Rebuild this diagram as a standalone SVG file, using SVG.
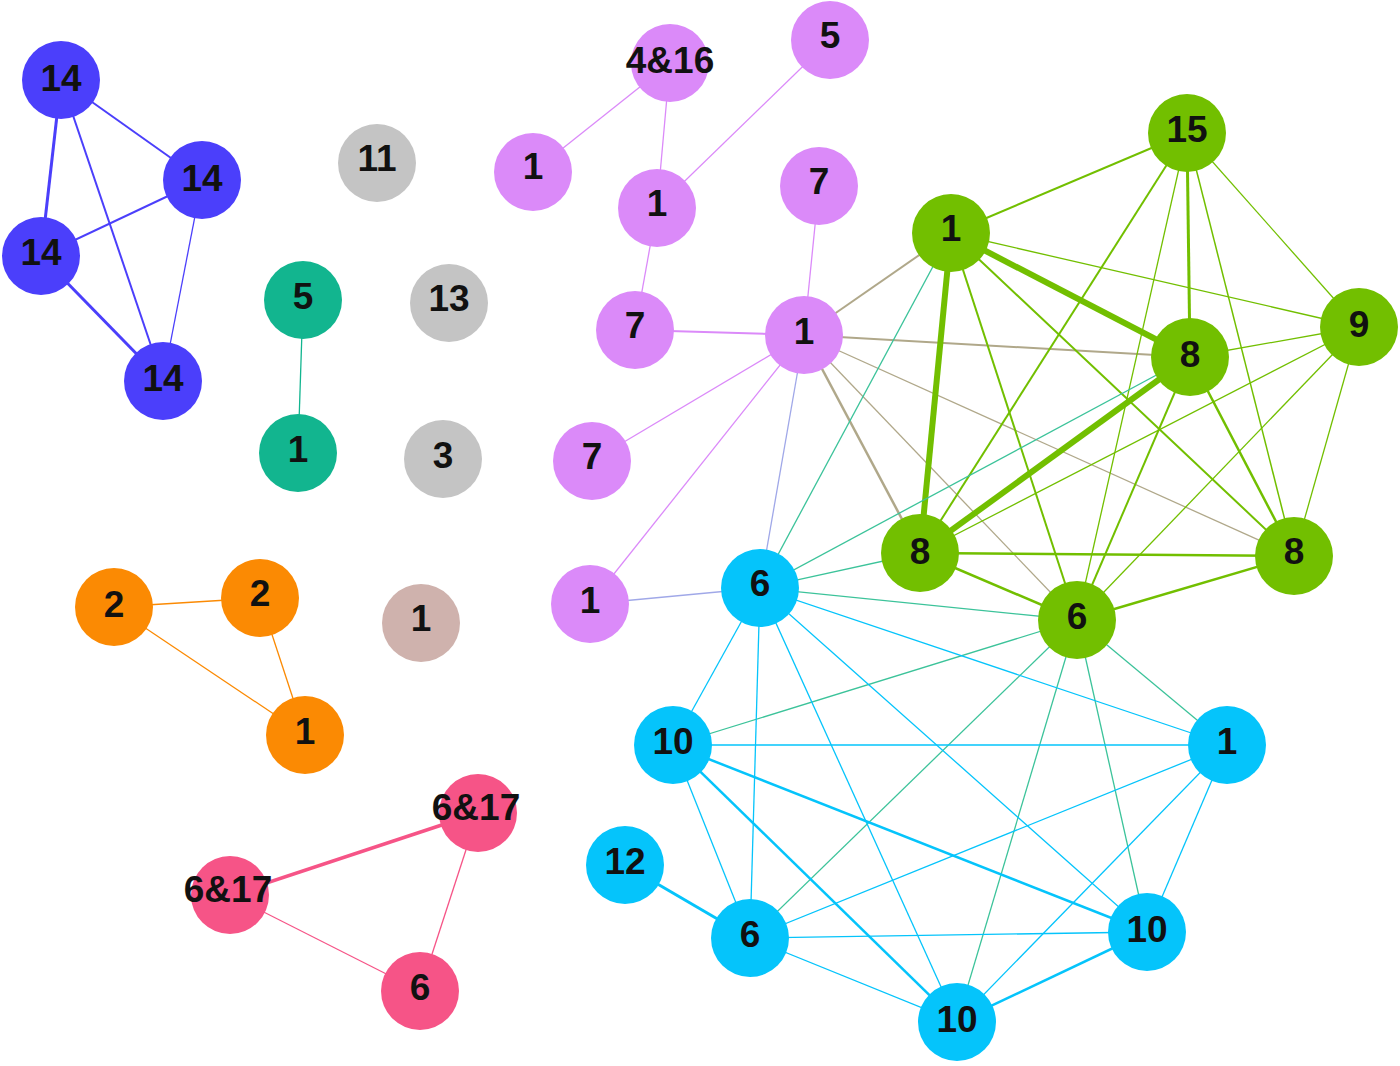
<svg xmlns="http://www.w3.org/2000/svg" width="1400" height="1066" viewBox="0 0 1400 1066">
<style>
text{font-family:"Liberation Sans",Arial,sans-serif;font-weight:bold;font-size:37px;text-anchor:middle;dominant-baseline:central;fill:#111}
.bl{fill:#4b3ffb}.gy{fill:#c4c4c4}.te{fill:#12b58f}.or{fill:#fb8a03}.tn{fill:#cfb2ad}.pk{fill:#f65487}.pu{fill:#db8af9}.gr{fill:#72bf00}.cy{fill:#05c4fb}
</style>
<rect width="1400" height="1066" fill="#fff"/>
<g id="edges" stroke-width="1.3">
<g stroke="#4b3ffb"><line x1="61" y1="80" x2="41" y2="256" stroke-width="3"/><line x1="41" y1="256" x2="163" y2="381" stroke-width="3"/><line x1="61" y1="80" x2="202" y2="180" stroke-width="2"/><line x1="61" y1="80" x2="163" y2="381" stroke-width="2"/><line x1="202" y1="180" x2="41" y2="256" stroke-width="2"/><line x1="202" y1="180" x2="163" y2="381"/></g>
<line x1="303" y1="300" x2="298" y2="453" stroke="#12b58f"/>
<g stroke="#fb8a03"><line x1="114" y1="607" x2="260" y2="598"/><line x1="114" y1="607" x2="305" y2="735"/><line x1="260" y1="598" x2="305" y2="735"/></g>
<g stroke="#f65487"><line x1="478" y1="813" x2="230" y2="895" stroke-width="3.5"/><line x1="478" y1="813" x2="420" y2="991"/><line x1="230" y1="895" x2="420" y2="991"/></g>
<g stroke="#db8af9"><line x1="670" y1="63" x2="533" y2="172"/><line x1="670" y1="63" x2="657" y2="208"/><line x1="830" y1="40" x2="657" y2="208"/><line x1="657" y1="208" x2="635" y2="330"/><line x1="819" y1="186" x2="804" y2="335"/><line x1="635" y1="330" x2="804" y2="335" stroke-width="2"/><line x1="804" y1="335" x2="592" y2="461"/><line x1="804" y1="335" x2="590" y2="604"/></g>
<g stroke="#a0a8e8"><line x1="804" y1="335" x2="760" y2="588"/><line x1="590" y1="604" x2="760" y2="588"/></g>
<g stroke="#b0a88a"><line x1="804" y1="335" x2="951" y2="233" stroke-width="2"/><line x1="804" y1="335" x2="1190" y2="357" stroke-width="2"/><line x1="804" y1="335" x2="920" y2="553" stroke-width="2.5"/><line x1="804" y1="335" x2="1077" y2="620"/><line x1="804" y1="335" x2="1294" y2="556"/></g>
<g stroke="#72bf00"><line x1="951" y1="233" x2="1187" y2="133" stroke-width="2"/><line x1="951" y1="233" x2="1190" y2="357" stroke-width="6"/><line x1="951" y1="233" x2="920" y2="553" stroke-width="6"/><line x1="1190" y1="357" x2="920" y2="553" stroke-width="6"/><line x1="951" y1="233" x2="1359" y2="327"/><line x1="951" y1="233" x2="1077" y2="620" stroke-width="2"/><line x1="951" y1="233" x2="1294" y2="556" stroke-width="2"/><line x1="1187" y1="133" x2="1190" y2="357" stroke-width="3"/><line x1="1187" y1="133" x2="1359" y2="327"/><line x1="1187" y1="133" x2="920" y2="553" stroke-width="2"/><line x1="1187" y1="133" x2="1077" y2="620"/><line x1="1187" y1="133" x2="1294" y2="556" stroke-width="1.5"/><line x1="1190" y1="357" x2="1359" y2="327"/><line x1="1190" y1="357" x2="1077" y2="620" stroke-width="2"/><line x1="1190" y1="357" x2="1294" y2="556" stroke-width="2.5"/><line x1="1359" y1="327" x2="920" y2="553"/><line x1="1359" y1="327" x2="1077" y2="620"/><line x1="1359" y1="327" x2="1294" y2="556"/><line x1="920" y1="553" x2="1294" y2="556" stroke-width="2.5"/><line x1="920" y1="553" x2="1077" y2="620" stroke-width="2.5"/><line x1="1077" y1="620" x2="1294" y2="556" stroke-width="2.5"/></g>
<g stroke="#3cc39a"><line x1="951" y1="233" x2="760" y2="588"/><line x1="760" y1="588" x2="920" y2="553"/><line x1="760" y1="588" x2="1077" y2="620"/><line x1="760" y1="588" x2="1190" y2="357"/><line x1="673" y1="745" x2="1077" y2="620"/><line x1="750" y1="938" x2="1077" y2="620"/><line x1="1147" y1="932" x2="1077" y2="620"/><line x1="957" y1="1022" x2="1077" y2="620"/><line x1="1227" y1="745" x2="1077" y2="620"/></g>
<g stroke="#05c4fb"><line x1="760" y1="588" x2="673" y2="745"/><line x1="760" y1="588" x2="750" y2="938"/><line x1="760" y1="588" x2="957" y2="1022"/><line x1="760" y1="588" x2="1147" y2="932"/><line x1="760" y1="588" x2="1227" y2="745"/><line x1="673" y1="745" x2="1227" y2="745"/><line x1="673" y1="745" x2="750" y2="938"/><line x1="673" y1="745" x2="957" y2="1022" stroke-width="2.5"/><line x1="673" y1="745" x2="1147" y2="932" stroke-width="2.5"/><line x1="625" y1="865" x2="750" y2="938" stroke-width="3"/><line x1="750" y1="938" x2="1147" y2="932"/><line x1="750" y1="938" x2="957" y2="1022"/><line x1="750" y1="938" x2="1227" y2="745"/><line x1="1147" y1="932" x2="957" y2="1022" stroke-width="2.5"/><line x1="1147" y1="932" x2="1227" y2="745"/><line x1="957" y1="1022" x2="1227" y2="745"/></g>
</g>
<g id="n1"><circle class="bl" cx="61" cy="80" r="39"/><text x="61" y="78">14</text></g>
<g id="n2"><circle class="bl" cx="202" cy="180" r="39"/><text x="202" y="178">14</text></g>
<g id="n3"><circle class="bl" cx="41" cy="256" r="39"/><text x="41" y="252">14</text></g>
<g id="n4"><circle class="bl" cx="163" cy="381" r="39"/><text x="163" y="378">14</text></g>
<g id="n5"><circle class="gy" cx="377" cy="163" r="39"/><text x="377" y="158">11</text></g>
<g id="n6"><circle class="gy" cx="449" cy="303" r="39"/><text x="449" y="298">13</text></g>
<g id="n7"><circle class="gy" cx="443" cy="459" r="39"/><text x="443" y="455">3</text></g>
<g id="n8"><circle class="te" cx="303" cy="300" r="39"/><text x="303" y="296">5</text></g>
<g id="n9"><circle class="te" cx="298" cy="453" r="39"/><text x="298" y="449">1</text></g>
<g id="n10"><circle class="or" cx="114" cy="607" r="39"/><text x="114" y="604">2</text></g>
<g id="n11"><circle class="or" cx="260" cy="598" r="39"/><text x="260" y="593">2</text></g>
<g id="n12"><circle class="or" cx="305" cy="735" r="39"/><text x="305" y="731">1</text></g>
<g id="n13"><circle class="tn" cx="421" cy="623" r="39"/><text x="421" y="618">1</text></g>
<g id="n14"><circle class="pk" cx="478" cy="813" r="39"/><text x="476" y="807">6&amp;17</text></g>
<g id="n15"><circle class="pk" cx="230" cy="895" r="39"/><text x="228" y="889">6&amp;17</text></g>
<g id="n16"><circle class="pk" cx="420" cy="991" r="39"/><text x="420" y="987">6</text></g>
<g id="n17"><circle class="pu" cx="670" cy="63" r="39"/><text x="670" y="60">4&amp;16</text></g>
<g id="n18"><circle class="pu" cx="830" cy="40" r="39"/><text x="830" y="35">5</text></g>
<g id="n19"><circle class="pu" cx="533" cy="172" r="39"/><text x="533" y="166">1</text></g>
<g id="n20"><circle class="pu" cx="657" cy="208" r="39"/><text x="657" y="203">1</text></g>
<g id="n21"><circle class="pu" cx="819" cy="186" r="39"/><text x="819" y="181">7</text></g>
<g id="n22"><circle class="pu" cx="635" cy="330" r="39"/><text x="635" y="325">7</text></g>
<g id="n23"><circle class="pu" cx="804" cy="335" r="39"/><text x="804" y="331">1</text></g>
<g id="n24"><circle class="pu" cx="592" cy="461" r="39"/><text x="592" y="456">7</text></g>
<g id="n25"><circle class="pu" cx="590" cy="604" r="39"/><text x="590" y="600">1</text></g>
<g id="n26"><circle class="gr" cx="1187" cy="133" r="39"/><text x="1187" y="129">15</text></g>
<g id="n27"><circle class="gr" cx="951" cy="233" r="39"/><text x="951" y="228">1</text></g>
<g id="n28"><circle class="gr" cx="1359" cy="327" r="39"/><text x="1359" y="324">9</text></g>
<g id="n29"><circle class="gr" cx="1190" cy="357" r="39"/><text x="1190" y="354">8</text></g>
<g id="n30"><circle class="gr" cx="920" cy="553" r="39"/><text x="920" y="551">8</text></g>
<g id="n31"><circle class="gr" cx="1294" cy="556" r="39"/><text x="1294" y="551">8</text></g>
<g id="n32"><circle class="gr" cx="1077" cy="620" r="39"/><text x="1077" y="616">6</text></g>
<g id="n33"><circle class="cy" cx="760" cy="588" r="39"/><text x="760" y="583">6</text></g>
<g id="n34"><circle class="cy" cx="673" cy="745" r="39"/><text x="673" y="741">10</text></g>
<g id="n35"><circle class="cy" cx="1227" cy="745" r="39"/><text x="1227" y="741">1</text></g>
<g id="n36"><circle class="cy" cx="625" cy="865" r="39"/><text x="625" y="861">12</text></g>
<g id="n37"><circle class="cy" cx="750" cy="938" r="39"/><text x="750" y="934">6</text></g>
<g id="n38"><circle class="cy" cx="1147" cy="932" r="39"/><text x="1147" y="929">10</text></g>
<g id="n39"><circle class="cy" cx="957" cy="1022" r="39"/><text x="957" y="1019">10</text></g>
</svg>
